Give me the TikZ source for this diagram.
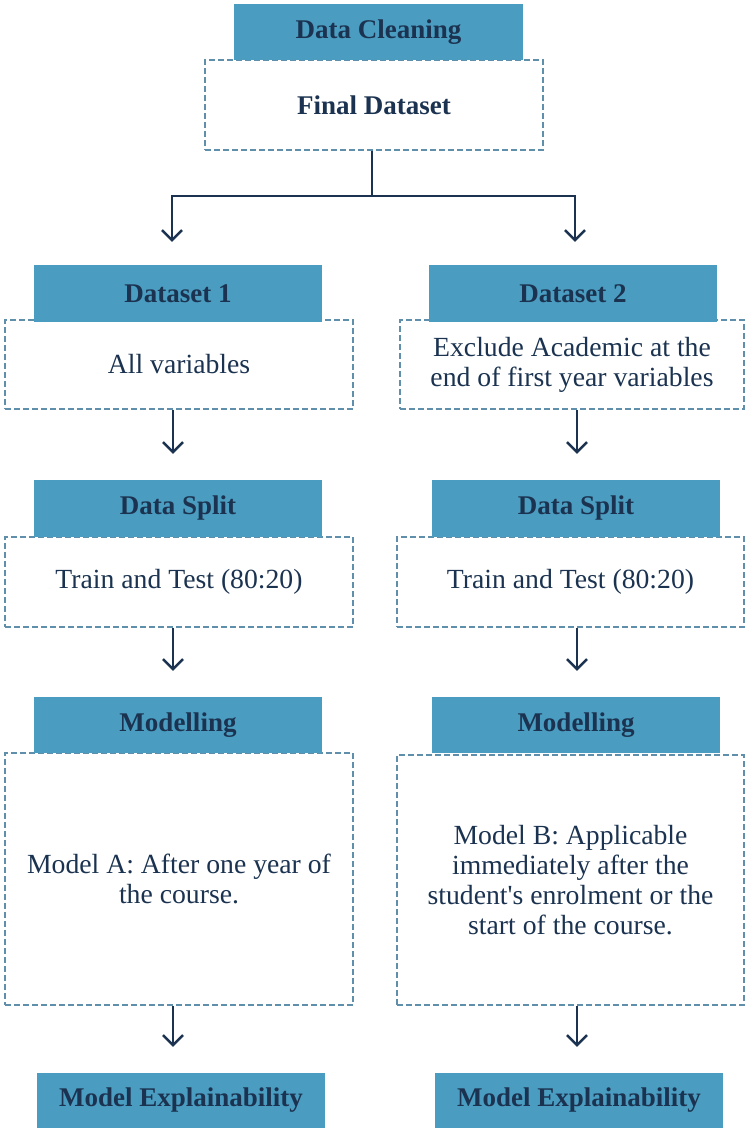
\documentclass[tikz,border=0pt]{standalone}
\usepackage{fontspec}
\setmainfont{Liberation Serif}[Ligatures=TeXOff]
\usetikzlibrary{arrows.meta,calc}
\definecolor{hdr}{HTML}{4A9CC0}
\definecolor{ink}{HTML}{1B3350}
\definecolor{dsh}{HTML}{5F8FAA}
\begin{document}
\begin{tikzpicture}[x=1pt,y=-1pt,
  hdrbox/.style={fill=hdr, text=ink, font=\fontsize{27}{30}\selectfont\bfseries,
    inner sep=0pt, minimum width=288pt, minimum height=56pt},
  dbox/.style={draw=dsh, dash pattern=on 6pt off 3pt, line width=1.5pt, text=ink,
    font=\fontsize{27.7}{30}\selectfont, align=center, inner sep=0pt},
  conn/.style={draw=ink, line width=2.5pt},
  arr/.style={conn, -{Straight Barb[length=10pt,width=20pt,line width=2.5pt]}}]
\useasboundingbox (0,0) rectangle (745,1131);
\fill[white] (0,0) rectangle (745,1131);

% top
\node[dbox, minimum width=338pt, minimum height=90pt] (fd) at (374,105) {\fontsize{27}{30}\selectfont\bfseries Final Dataset};
\node[hdrbox, minimum width=289pt] (dc) at (378.5,32) {Data Cleaning};

% left column
\node[dbox, minimum width=348pt, minimum height=89pt] (d1b) at (179,364.5) {All variables};
\node[hdrbox, minimum height=57pt] (d1h) at (178,293.5) {Dataset 1};
\node[dbox, minimum width=348pt, minimum height=90pt] (s1b) at (179,582) {Train and Test (80:20)};
\node[hdrbox, minimum height=57pt] (s1h) at (178,508.5) {Data Split};
\node[dbox, minimum width=348pt, minimum height=252pt] (m1b) at (179,879) {Model A: After one year of\\the course.};
\node[hdrbox] (m1h) at (178,725) {Modelling};
\node[hdrbox, minimum height=55pt] (e1h) at (181,1100.5) {Model Explainability};

% right column
\node[dbox, minimum width=344pt, minimum height=89pt] (d2b) at (572,364.5) {Exclude Academic at the\\end of first year variables};
\node[hdrbox, minimum height=57pt] (d2h) at (573,293.5) {Dataset 2};
\node[dbox, minimum width=347pt, minimum height=90pt] (s2b) at (570.5,582) {Train and Test (80:20)};
\node[hdrbox, minimum height=57pt] (s2h) at (576,508.5) {Data Split};
\node[dbox, minimum width=347pt, minimum height=250pt] (m2b) at (570.5,880) {Model B: Applicable\\immediately after the\\student's enrolment or the\\start of the course.};
\node[hdrbox] (m2h) at (576,725) {Modelling};
\node[hdrbox, minimum height=55pt] (e2h) at (579,1100.5) {Model Explainability};

% connectors
\coordinate (xl) at (173,0);
\coordinate (xr) at (577,0);
\coordinate (jl) at (172,196);
\coordinate (jr) at (575,196);
\draw[conn] (fd.south -| 372,0) -- (jl -| 372,0);
\draw[conn, line cap=rect] (jl) -- (jr);
\draw[arr, shorten >=23pt] (jl) -- (jl |- d1h.north);
\draw[arr, shorten >=23pt] (jr) -- (jr |- d2h.north);

\draw[arr, shorten >=26pt] (d1b.south -| xl) -- (s1h.north -| xl);
\draw[arr, shorten >=26pt] (s1b.south -| xl) -- (m1h.north -| xl);
\draw[arr, shorten >=26pt] (m1b.south -| xl) -- (e1h.north -| xl);

\draw[arr, shorten >=26pt] (d2b.south -| xr) -- (s2h.north -| xr);
\draw[arr, shorten >=26pt] (s2b.south -| xr) -- (m2h.north -| xr);
\draw[arr, shorten >=26pt] (m2b.south -| xr) -- (e2h.north -| xr);
\end{tikzpicture}
\end{document}
